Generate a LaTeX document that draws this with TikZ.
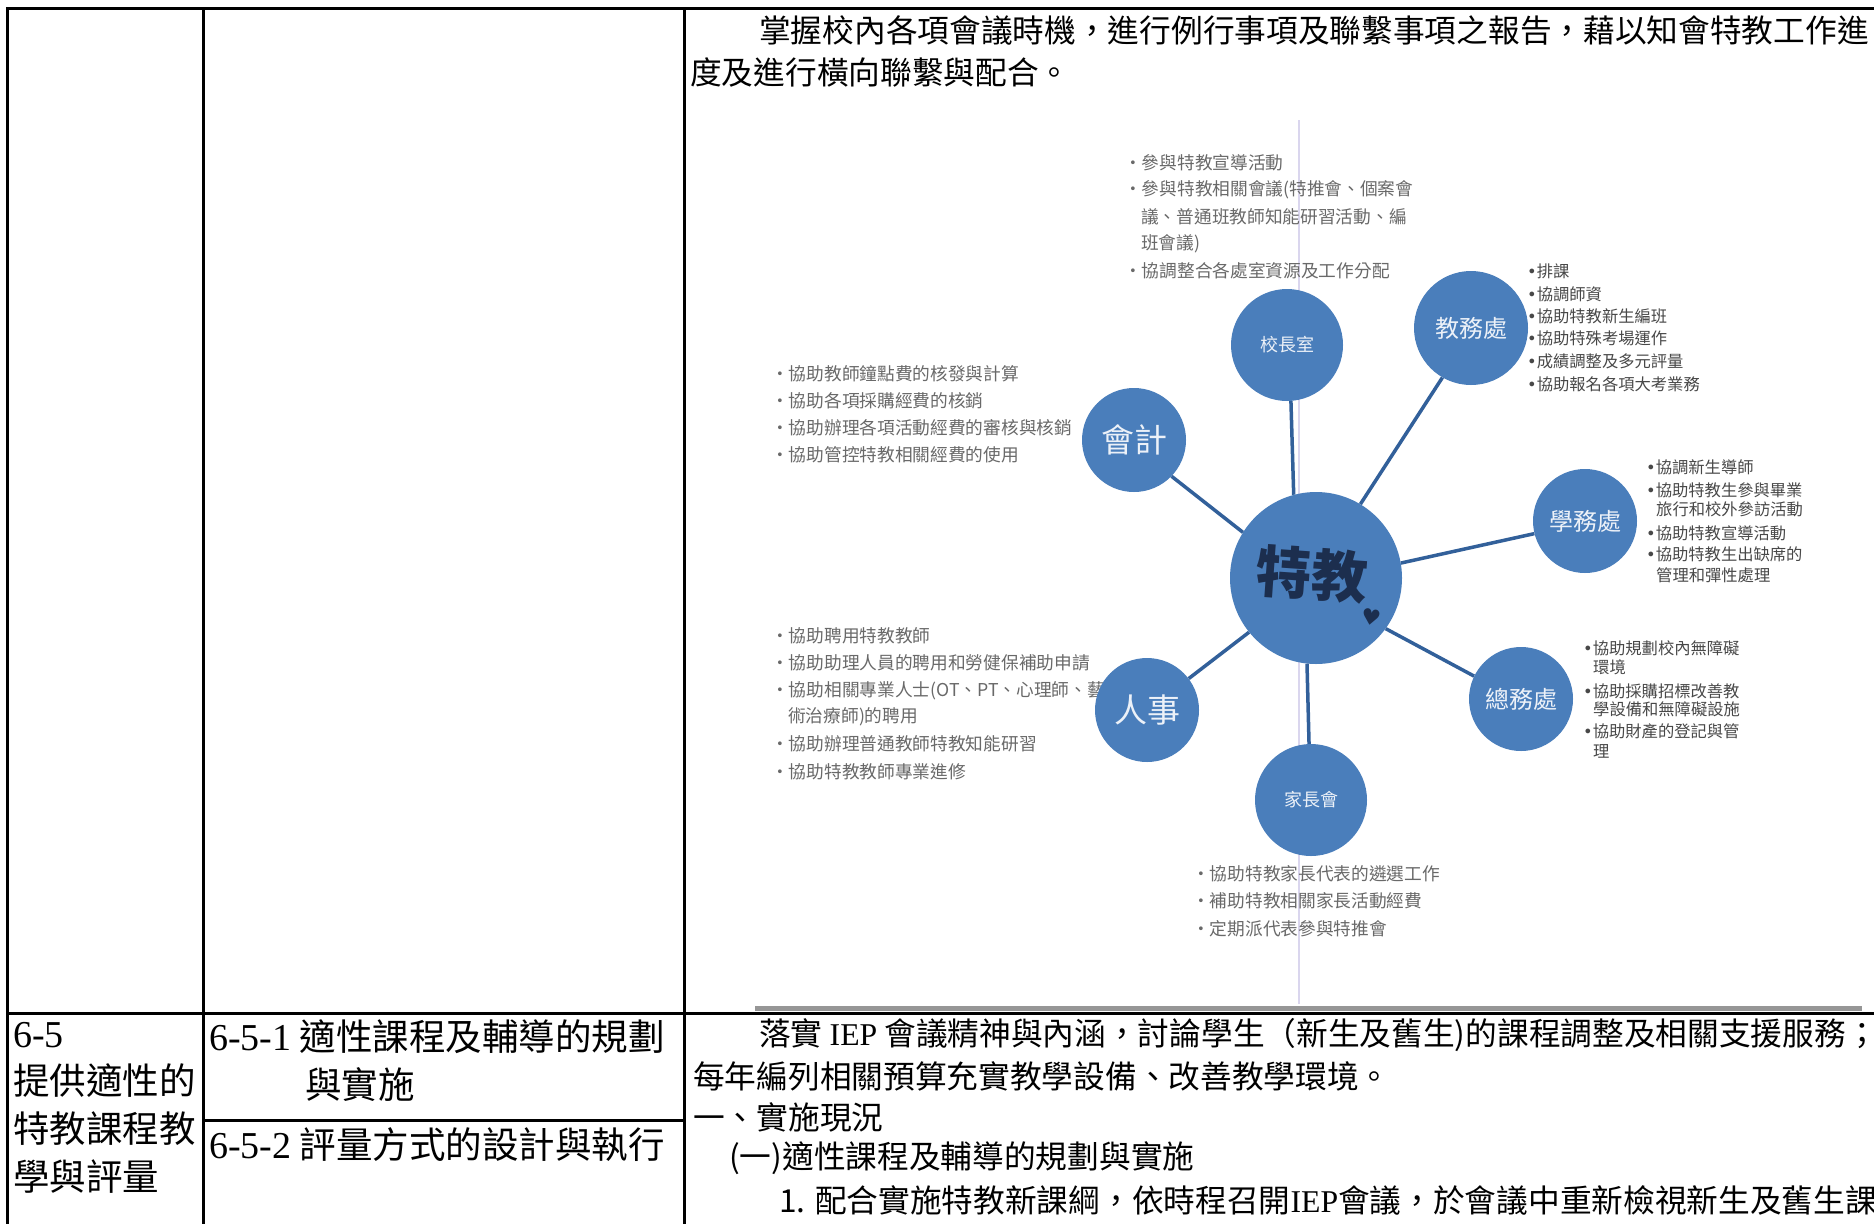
\documentclass[tikz,border=0pt]{standalone}
\usepackage{fontspec}
\setmainfont{Liberation Serif}
\newfontfamily\cjk{Noto Sans CJK TC}
\newfontfamily\djv{DejaVu Sans}
\newcommand{\blt}{{\djv •}}
\definecolor{cblue}{RGB}{74,126,187}
\definecolor{lblue}{RGB}{50,96,154}
\definecolor{navy}{RGB}{28,46,78}
\definecolor{lgray}{RGB}{105,105,105}
\definecolor{dgray}{RGB}{72,72,72}
\definecolor{ctext}{RGB}{236,241,248}
\begin{document}
\begin{tikzpicture}[x=1pt,y=-1pt,
  tbl/.style={line width=3pt,black},
  body/.style={anchor=west,inner sep=0pt,font=\cjk\fontsize{31.7}{36}\selectfont,text=black},
  cell/.style={anchor=west,inner sep=0pt,font=\cjk\fontsize{36.5}{40}\selectfont,text=black},
  circ/.style={circle,fill=cblue,inner sep=0pt,text=ctext,font=\cjk},
  conn/.style={line width=3.5pt,lblue},
  lsans/.style={anchor=west,inner sep=0pt,font=\cjk\fontsize{17.7}{20}\selectfont,text=lgray},
  lserif/.style={anchor=west,inner sep=0pt,font=\cjk\fontsize{16.3}{19}\selectfont,text=dgray}]
\useasboundingbox (0,0) rectangle (1874,1224);
\fill[white] (0,0) rectangle (1874,1224);

% scan artefacts of the pasted figure
\draw[line width=1.5pt,color={rgb,255:red,218;green,214;blue,238}] (1299,120) -- (1299,1004);
\draw[line width=5pt,color={rgb,255:red,150;green,150;blue,150}] (755,1008) -- (1862,1008);

% table rules
\draw[tbl] (6,8) -- (1874,8);
\draw[tbl] (7,8) -- (7,1224);
\draw[tbl] (203,8) -- (203,1224);
\draw[tbl] (684,8) -- (684,1224);
\draw[tbl] (7,1013) -- (1874,1013);
\draw[tbl] (203,1120) -- (684,1120);

% upper row text
\node[body] (p1) at (759,30) {掌握校內各項會議時機，進行例行事項及聯繫事項之報告，藉以知會特教工作進};
\node[body] (p2) at (690,72) {度及進行橫向聯繫與配合。};

% top list (校長室)
\node[lsans] (k1) at (1124,163) {・參與特教宣導活動};
\node[lsans] (k2) at (1124,190) {・參與特教相關會議(特推會、個案會};
\node[lsans] (k3) at (1141,217) {議、普通班教師知能研習活動、編};
\node[lsans] (k4) at (1141,244) {班會議)};
\node[lsans] (k5) at (1124,271) {・協調整合各處室資源及工作分配};

% 教務處 list
\node[lserif] (j1) at (1527,271) {\blt 排課};
\node[lserif] (j2) at (1527,294) {\blt 協調師資};
\node[lserif] (j3) at (1527,316) {\blt 協助特教新生編班};
\node[lserif] (j4) at (1527,338) {\blt 協助特殊考場運作};
\node[lserif] (j5) at (1527,361) {\blt 成績調整及多元評量};
\node[lserif] (j6) at (1527,384) {\blt 協助報名各項大考業務};

% 會計 list
\node[lsans] (a1) at (771,374) {・協助教師鐘點費的核發與計算};
\node[lsans] (a2) at (771,401) {・協助各項採購經費的核銷};
\node[lsans] (a3) at (771,428) {・協助辦理各項活動經費的審核與核銷};
\node[lsans] (a4) at (771,455) {・協助管控特教相關經費的使用};

% 學務處 list
\node[lserif] (s1) at (1646,467) {\blt 協調新生導師};
\node[lserif] (s2) at (1646,490) {\blt 協助特教生參與畢業};
\node[lserif] (s3) at (1656,509) {旅行和校外參訪活動};
\node[lserif] (s4) at (1646,533) {\blt 協助特教宣導活動};
\node[lserif] (s5) at (1646,554) {\blt 協助特教生出缺席的};
\node[lserif] (s6) at (1656,575) {管理和彈性處理};

% 人事 list
\node[lsans] (r1) at (771,636) {・協助聘用特教教師};
\node[lsans] (r2) at (771,663) {・協助助理人員的聘用和勞健保補助申請};
\node[lsans] (r3) at (771,691) {・協助相關專業人士(OT、PT、心理師、藝};
\node[lsans] (r4) at (788,717) {術治療師)的聘用};
\node[lsans] (r5) at (771,744) {・協助辦理普通教師特教知能研習};
\node[lsans] (r6) at (771,772) {・協助特教教師專業進修};

% 總務處 list
\node[lserif] (g1) at (1583,648) {\blt 協助規劃校內無障礙};
\node[lserif] (g2) at (1593,667) {環境};
\node[lserif] (g3) at (1583,691) {\blt 協助採購招標改善教};
\node[lserif] (g4) at (1593,709) {學設備和無障礙設施};
\node[lserif] (g5) at (1583,731) {\blt 協助財產的登記與管};
\node[lserif] (g6) at (1593,751) {理};

% 家長會 list
\node[lsans] (h1) at (1192,874) {・協助特教家長代表的遴選工作};
\node[lsans] (h2) at (1192,901) {・補助特教相關家長活動經費};
\node[lsans] (h3) at (1192,929) {・定期派代表參與特推會};

% circles
\node[circ,minimum size=172pt] (C) at (1316,578) {};
\node[anchor=center,inner sep=0pt,font=\cjk\bfseries\fontsize{56}{60}\selectfont,text=navy,rotate=-4] (tj) at (1312,574) {特教};
\node[anchor=center,inner sep=0pt,font=\djv\fontsize{22}{24}\selectfont,text=navy,rotate=-10] (heart) at (1371,617) {♥};
\node[circ,minimum size=112pt,font=\cjk\fontsize{18}{20}\selectfont] (K) at (1287,345) {校長室};
\node[circ,minimum size=114pt,font=\cjk\fontsize{24}{26}\selectfont] (J) at (1471,328) {教務處};
\node[circ,minimum size=104pt,font=\cjk\fontsize{33}{36}\selectfont] (A) at (1134,440) {會計};
\node[circ,minimum size=104pt,font=\cjk\fontsize{24}{26}\selectfont] (S) at (1585,521) {學務處};
\node[circ,minimum size=104pt,font=\cjk\fontsize{24}{26}\selectfont] (G) at (1521,699) {總務處};
\node[circ,minimum size=104pt,font=\cjk\fontsize{33}{36}\selectfont] (P) at (1147,710) {人事};
\node[circ,minimum size=112pt,font=\cjk\fontsize{18}{20}\selectfont] (H) at (1311,800) {家長會};

% connectors
\draw[conn] (K.-86) -- (C.105);
\draw[conn] (J.240) -- (C.59);
\draw[conn] (A.-44) -- (C.148);
\draw[conn] (S.194) -- (C.10);
\draw[conn] (G.154) -- (C.-36);
\draw[conn] (P.37) -- (C.219);
\draw[conn] (H.92) -- (C.264);

% lower row, column 1
\node[cell,font=\rmfamily\fontsize{38}{40}\selectfont] (c1) at (13,1035) {6-5};
\node[cell] (c2) at (13,1081) {提供適性的};
\node[cell] (c3) at (13,1129) {特教課程教};
\node[cell] (c4) at (13,1177) {學與評量};

% lower row, column 2
\node[cell] (d1) at (209,1037) {{\rmfamily\fontsize{38}{40}\selectfont 6-5-1} 適性課程及輔導的規劃};
\node[cell] (d2) at (305,1085) {與實施};
\node[cell] (d3) at (209,1145) {{\rmfamily\fontsize{38}{40}\selectfont 6-5-2} 評量方式的設計與執行};

% lower row, column 3
\node[body] (q1) at (759,1035) {落實 {\rmfamily IEP} 會議精神與內涵，討論學生（新生及舊生)的課程調整及相關支援服務；};
\node[body] (q2) at (693,1076) {每年編列相關預算充實教學設備、改善教學環境。};
\node[body] (q3) at (693,1117) {一、實施現況};
\node[body] (q4) at (729,1158) {(一)適性課程及輔導的規劃與實施};
\node[body] (q5) at (779,1200) {1. 配合實施特教新課綱，依時程召開{\rmfamily IEP}會議，於會議中重新檢視新生及舊生課};
\end{tikzpicture}
\end{document}
